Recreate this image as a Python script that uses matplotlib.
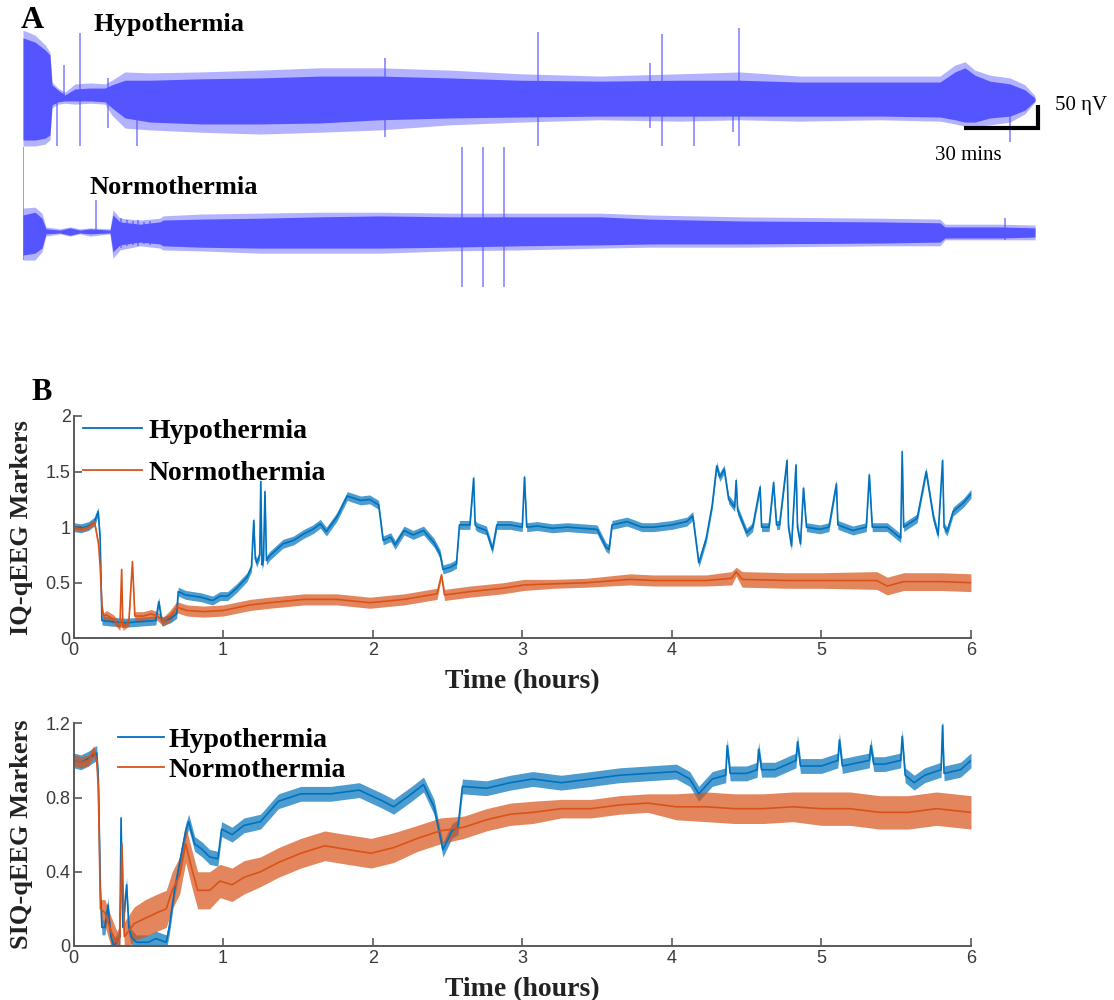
import numpy as np
import matplotlib
matplotlib.use("Agg")
import matplotlib.pyplot as plt
from matplotlib.lines import Line2D

# ---------------- Panel A: raw EEG envelopes (time in hours, amplitude in nV) ----------------
hypo_env_t = [0.000, 0.081, 0.149, 0.182, 0.196, 0.236, 0.284, 0.351, 0.453, 0.554, 0.601,
              0.689, 0.858, 1.196, 1.601, 2.007, 2.412, 2.885, 3.358, 3.899, 4.439, 4.845,
              5.250, 5.791, 6.196, 6.297, 6.365, 6.432, 6.534, 6.669, 6.770, 6.838]
hypo_core_hi = [135, 126, 109, 98, 33, 22, 11, 24, 26, 26, 33, 43, 43, 46, 48, 52, 52, 48, 43,
                41, 43, 43, 39, 39, 39, 61, 70, 54, 41, 35, 22, 4]
hypo_core_lo = [-87, -87, -83, -76, -11, -4, -2, -2, -2, -4, -17, -39, -48, -52, -52, -50, -43,
                -39, -37, -35, -35, -35, -35, -35, -37, -43, -48, -48, -39, -35, -22, -2]
hypo_edge_hi = [152, 141, 120, 104, 39, 26, 17, 35, 37, 35, 43, 61, 59, 61, 65, 70, 70, 65, 57,
                52, 57, 61, 52, 52, 52, 76, 83, 65, 54, 48, 33, 9]
hypo_edge_lo = [-100, -100, -96, -87, -17, -9, -7, -9, -7, -9, -33, -61, -65, -70, -74, -70, -65,
                -54, -48, -43, -46, -43, -46, -43, -46, -52, -57, -57, -54, -48, -30, -4]
hypo_spike_t = [0.230, 0.277, 0.385, 0.574, 0.770, 2.446, 3.480, 4.236, 4.318, 4.534, 4.797, 4.838, 6.669]
hypo_spike_hi = [22, 76, 146, 48, 0, 91, 148, 80, 143, 0, 0, 157, 0]
hypo_spike_lo = [-100, 0, -100, -61, -100, -80, -100, -61, -100, -100, -70, -100, -91]

normo_env_t = [0.000, 0.081, 0.128, 0.155, 0.250, 0.318, 0.385, 0.453, 0.588, 0.608, 0.655,
               0.791, 0.926, 0.946, 1.196, 1.601, 2.007, 2.412, 2.885, 3.358, 3.899, 4.236,
               4.845, 5.791, 6.196, 6.230, 6.601, 6.838]
normo_core_hi = [37, 43, 30, 7, 4, 9, 4, 7, 4, 37, 22, 17, 22, 26, 28, 30, 33, 35, 33, 33, 33,
                 28, 24, 22, 20, 11, 11, 9]
normo_core_lo = [-50, -46, -35, -4, -2, -7, -2, -4, -2, -43, -28, -22, -26, -30, -33, -35, -35,
                 -35, -33, -30, -28, -26, -26, -24, -22, -13, -13, -11]
normo_edge_hi = [52, 54, 41, 11, 7, 11, 7, 9, 7, 48, 30, 26, 30, 35, 39, 41, 43, 43, 41, 41, 41,
                 37, 33, 30, 28, 17, 17, 15]
normo_edge_lo = [-61, -61, -43, -9, -4, -9, -4, -9, -4, -57, -39, -30, -35, -39, -41, -46, -46,
                 -46, -41, -39, -35, -33, -33, -30, -30, -17, -17, -17]
normo_spike_t = [0.000, 0.493, 0.662, 0.700, 0.740, 0.780, 0.820, 0.860, 2.966, 3.108, 3.250, 6.635]
normo_spike_hi = [185, 70, 30, 26, 24, 26, 22, 24, 185, 185, 185, 30]
normo_spike_lo = [-61, 0, -35, -30, -28, -30, -26, -28, -120, -120, -120, -17]

# ---------------- Panel B: IQ-qEEG markers ----------------
iq_hypo_t = [0.00, 0.05, 0.10, 0.14, 0.165, 0.178, 0.19, 0.25, 0.35, 0.45, 0.55, 0.57, 0.59, 0.65,
             0.69, 0.70, 0.75, 0.85, 0.93, 0.98, 1.03, 1.09, 1.16, 1.19, 1.205, 1.215, 1.225, 1.245,
             1.252, 1.26, 1.27, 1.28, 1.29, 1.31, 1.40, 1.47, 1.54, 1.60, 1.65, 1.69, 1.76, 1.83,
             1.92, 1.98, 2.04, 2.07, 2.12, 2.15, 2.21, 2.27, 2.34, 2.41, 2.45, 2.47, 2.52, 2.56,
             2.58, 2.65, 2.675, 2.685, 2.70, 2.76, 2.80, 2.83, 2.92, 3.00, 3.015, 3.03, 3.10, 3.20,
             3.30, 3.40, 3.50, 3.56, 3.58, 3.60, 3.70, 3.80, 3.88, 4.00, 4.10, 4.14, 4.18, 4.19,
             4.23, 4.27, 4.30, 4.32, 4.35, 4.38, 4.42, 4.43, 4.44, 4.50, 4.54, 4.59, 4.60, 4.65,
             4.68, 4.70, 4.72, 4.77, 4.78, 4.80, 4.83, 4.84, 4.86, 4.88, 4.90, 4.99, 5.05, 5.10,
             5.11, 5.21, 5.30, 5.32, 5.34, 5.44, 5.53, 5.54, 5.55, 5.64, 5.70, 5.75, 5.78, 5.81,
             5.82, 5.84, 5.88, 5.95, 6.00]
iq_hypo_v = [1.00, 0.99, 1.01, 1.05, 1.14, 0.90, 0.16, 0.15, 0.14, 0.15, 0.16, 0.33, 0.15, 0.18,
             0.22, 0.42, 0.39, 0.37, 0.34, 0.38, 0.38, 0.45, 0.55, 0.64, 1.06, 0.72, 0.68, 0.75,
             1.41, 0.66, 0.70, 1.32, 0.70, 0.74, 0.85, 0.88, 0.94, 0.98, 1.03, 0.96, 1.09, 1.28,
             1.24, 1.25, 1.20, 0.88, 0.91, 0.84, 0.97, 0.93, 0.97, 0.86, 0.76, 0.62, 0.64, 0.67,
             1.02, 1.02, 1.44, 1.02, 1.00, 0.97, 0.80, 1.02, 1.02, 1.00, 1.45, 1.00, 1.01, 0.99,
             1.00, 0.99, 0.98, 0.82, 0.80, 1.02, 1.05, 1.00, 1.00, 1.02, 1.05, 1.10, 0.68, 0.72,
             0.90, 1.20, 1.55, 1.45, 1.52, 1.25, 1.18, 1.42, 1.15, 0.95, 1.00, 1.36, 1.00, 1.00,
             1.40, 1.02, 1.02, 1.60, 1.00, 0.83, 1.56, 1.00, 0.85, 1.35, 1.00, 0.98, 1.00, 1.39,
             1.02, 0.97, 1.00, 1.47, 1.00, 1.00, 0.90, 1.68, 1.00, 1.08, 1.50, 1.08, 0.93, 1.60,
             1.00, 0.96, 1.14, 1.22, 1.30]
iq_hypo_spread = 0.04

iq_normo_t = [0.00, 0.05, 0.10, 0.14, 0.167, 0.178, 0.19, 0.20, 0.22, 0.27, 0.31, 0.322, 0.33,
              0.37, 0.394, 0.41, 0.467, 0.52, 0.56, 0.60, 0.645, 0.69, 0.76, 0.87, 1.00, 1.18,
              1.31, 1.54, 1.76, 1.98, 2.21, 2.43, 2.46, 2.48, 2.65, 2.87, 3.01, 3.21, 3.43, 3.72,
              3.88, 4.10, 4.23, 4.40, 4.43, 4.47, 4.77, 5.00, 5.37, 5.44, 5.55, 5.80, 6.00]
iq_normo_v = [1.00, 0.98, 1.00, 1.05, 0.85, 0.65, 0.30, 0.20, 0.21, 0.17, 0.10, 0.62, 0.10,
              0.15, 0.69, 0.20, 0.20, 0.22, 0.20, 0.15, 0.20, 0.28, 0.25, 0.24, 0.25, 0.30,
              0.32, 0.35, 0.35, 0.32, 0.35, 0.40, 0.57, 0.39, 0.42, 0.45, 0.48, 0.49, 0.50, 0.53,
              0.52, 0.52, 0.52, 0.54, 0.60, 0.53, 0.52, 0.52, 0.52, 0.47, 0.51, 0.51, 0.50]
iq_normo_spread = [0.02, 0.02, 0.02, 0.02, 0.02, 0.02, 0.02, 0.03, 0.04, 0.04, 0.03, 0.01, 0.03,
                   0.04, 0.01, 0.04, 0.04, 0.04, 0.04, 0.04, 0.05, 0.05, 0.05, 0.05, 0.05, 0.05,
                   0.05, 0.05, 0.05, 0.05, 0.05, 0.05, 0.02, 0.05, 0.05, 0.05, 0.05, 0.04, 0.04,
                   0.05, 0.05, 0.05, 0.05, 0.06, 0.04, 0.07, 0.07, 0.07, 0.08, 0.08, 0.08, 0.08, 0.08]

# ---------------- Panel B: SIQ-qEEG markers ----------------
siq_hypo_t = [0.00, 0.05, 0.10, 0.135, 0.155, 0.166, 0.18, 0.19, 0.21, 0.23, 0.25, 0.27, 0.31,
              0.318, 0.33, 0.355, 0.37, 0.386, 0.42, 0.50, 0.55, 0.62, 0.64, 0.675, 0.71, 0.75,
              0.77, 0.81, 0.86, 0.91, 0.965, 0.99, 1.06, 1.14, 1.25, 1.37, 1.52, 1.72, 1.91, 2.07,
              2.14, 2.26, 2.34, 2.41, 2.47, 2.53, 2.57, 2.60, 2.76, 2.92, 3.07, 3.26, 3.46, 3.65,
              3.84, 4.03, 4.12, 4.18, 4.27, 4.36, 4.37, 4.39, 4.50, 4.57, 4.58, 4.60, 4.69, 4.83,
              4.84, 4.86, 5.00, 5.11, 5.12, 5.14, 5.32, 5.33, 5.35, 5.42, 5.53, 5.54, 5.56, 5.62,
              5.69, 5.80, 5.81, 5.82, 5.93, 6.00]
siq_hypo_v = [1.00, 0.99, 1.01, 1.03, 1.04, 0.90, 0.30, 0.10, 0.10, 0.22, 0.05, 0.00, 0.05,
              0.69, 0.10, 0.33, 0.10, 0.05, 0.02, 0.02, 0.04, 0.02, 0.10, 0.30, 0.45, 0.62,
              0.67, 0.55, 0.52, 0.48, 0.47, 0.63, 0.60, 0.65, 0.67, 0.78, 0.82, 0.82, 0.84, 0.78,
              0.75, 0.82, 0.87, 0.75, 0.52, 0.62, 0.64, 0.86, 0.85, 0.88, 0.90, 0.88, 0.90, 0.92,
              0.93, 0.94, 0.90, 0.82, 0.90, 0.92, 1.08, 0.93, 0.93, 0.95, 1.06, 0.95, 0.95, 1.00,
              1.10, 0.97, 0.97, 1.00, 1.11, 0.97, 1.00, 1.08, 0.98, 0.98, 1.00, 1.13, 0.92, 0.88,
              0.92, 0.95, 1.19, 0.93, 0.95, 1.00]
siq_hypo_spread = 0.04

siq_normo_t = [0.00, 0.05, 0.10, 0.135, 0.155, 0.166, 0.18, 0.21, 0.25, 0.29, 0.31, 0.324, 0.34,
               0.405, 0.48, 0.56, 0.62, 0.66, 0.71, 0.75, 0.79, 0.83, 0.91, 0.98, 1.06, 1.14,
               1.25, 1.37, 1.52, 1.68, 1.83, 1.99, 2.14, 2.30, 2.45, 2.61, 2.76, 2.92, 3.07, 3.26,
               3.46, 3.65, 3.84, 4.03, 4.23, 4.42, 4.61, 4.81, 5.00, 5.19, 5.39, 5.58, 5.77, 6.00]
siq_normo_v = [1.00, 0.99, 1.00, 1.05, 1.00, 0.85, 0.20, 0.18, 0.08, 0.02, 0.05, 0.55, 0.05,
               0.12, 0.15, 0.18, 0.20, 0.30, 0.38, 0.55, 0.42, 0.30, 0.30, 0.35, 0.33, 0.37,
               0.40, 0.45, 0.50, 0.54, 0.52, 0.50, 0.53, 0.58, 0.62, 0.64, 0.68, 0.71, 0.72, 0.74,
               0.74, 0.76, 0.77, 0.75, 0.75, 0.74, 0.74, 0.75, 0.74, 0.74, 0.72, 0.72, 0.74, 0.72]
siq_normo_spread = [0.03, 0.03, 0.03, 0.03, 0.03, 0.03, 0.05, 0.07, 0.08, 0.06, 0.06, 0.01, 0.08,
                    0.09, 0.10, 0.10, 0.10, 0.10, 0.10, 0.10, 0.10, 0.10, 0.10, 0.09, 0.09, 0.09,
                    0.08, 0.08, 0.08, 0.08, 0.08, 0.08, 0.08, 0.07, 0.07, 0.06, 0.06, 0.06, 0.06,
                    0.05, 0.05, 0.05, 0.05, 0.07, 0.08, 0.08, 0.08, 0.08, 0.09, 0.09, 0.09, 0.09,
                    0.09, 0.09]

iq_ticks = [0, 0.5, 1, 1.5, 2]
iq_ticklabels = ["0", "0.5", "1", "1.5", "2"]
siq_ticks = [0, 0.4, 0.8, 1.2]
siq_ticklabels = ["0", "0.4", "0.8", "1.2"]
time_ticks = [0, 1, 2, 3, 4, 5, 6]
series_names = ["Hypothermia", "Normothermia"]

EEG_COLOR = "#5555ff"
HYPO_COLOR = "#0072BD"
NORMO_COLOR = "#D95319"
AXIS_COLOR = "#5a5a5a"
SERIF = ["Liberation Serif", "DejaVu Serif"]
SANS = ["Liberation Sans", "DejaVu Sans"]

W, H = 1114, 1000
fig = plt.figure(figsize=(W / 100, H / 100), dpi=100)


def fx(px):
    return px / W


def fy(py):
    return 1 - py / H


# ---------------- Panel A ----------------
PX_PER_HOUR = 148.0
PX_PER_NV = 0.46
axA = fig.add_axes([fx(23), fy(300), fx(W - 23), 0.3])
axA.set_xlim(0, (W - 23) / PX_PER_HOUR)
axA.set_ylim(-200 / PX_PER_NV, 100 / PX_PER_NV)
axA.axis("off")
NORMO_OFFSET = -132 / PX_PER_NV


def draw_eeg(ax, t, core_hi, core_lo, edge_hi, edge_lo, sp_t, sp_hi, sp_lo, base):
    t = np.asarray(t)
    ax.fill_between(t, base + np.asarray(edge_lo), base + np.asarray(edge_hi),
                    color=EEG_COLOR, alpha=0.45, lw=0)
    ax.fill_between(t, base + np.asarray(core_lo), base + np.asarray(core_hi),
                    color=EEG_COLOR, alpha=1.0, lw=0)
    ax.vlines(sp_t, base + np.asarray(sp_lo), base + np.asarray(sp_hi),
              color=EEG_COLOR, lw=1.2, alpha=0.7)


draw_eeg(axA, hypo_env_t, hypo_core_hi, hypo_core_lo, hypo_edge_hi, hypo_edge_lo,
         hypo_spike_t, hypo_spike_hi, hypo_spike_lo, 0.0)
draw_eeg(axA, normo_env_t, normo_core_hi, normo_core_lo, normo_edge_hi, normo_edge_lo,
         normo_spike_t, normo_spike_hi, normo_spike_lo, NORMO_OFFSET)

# scale bar: 30 min x 50 nV
bar_t0, bar_v0 = 6.358, -61.0
axA.plot([bar_t0, bar_t0 + 0.5, bar_t0 + 0.5], [bar_v0, bar_v0, bar_v0 + 50],
         color="black", lw=3, solid_joinstyle="miter", solid_capstyle="butt")
axA.text(bar_t0 + 0.5 + 0.115, bar_v0 + 48, "50 \u03b7V", family=SERIF, fontsize=15,
         ha="left", va="center")
axA.text(bar_t0 + 0.03, bar_v0 - 60, "30 mins", family=SERIF, fontsize=15,
         ha="center", va="center")

fig.text(fx(93), fy(24), series_names[0], family=SERIF, weight="bold", fontsize=19,
         ha="left", va="center")
fig.text(fx(90), fy(187), series_names[1], family=SERIF, weight="bold", fontsize=19,
         ha="left", va="center")
fig.text(fx(21), fy(21), "A", family=SERIF, weight="bold", fontsize=23, ha="left", va="center")
fig.text(fx(31), fy(392), "B", family=SERIF, weight="bold", fontsize=22, ha="left", va="center")


# ---------------- Panel B ----------------
def style_axis(ax, yticks, yticklabels, ylim):
    ax.set_xlim(0, 6)
    ax.set_ylim(*ylim)
    for s in ("top", "right"):
        ax.spines[s].set_visible(False)
    for s in ("left", "bottom"):
        ax.spines[s].set_color(AXIS_COLOR)
        ax.spines[s].set_linewidth(1.4)
    ax.set_xticks(time_ticks)
    ax.set_xticklabels([str(v) for v in time_ticks])
    ax.set_yticks(yticks)
    ax.set_yticklabels(yticklabels)
    ax.tick_params(direction="in", length=6, width=1.2, color=AXIS_COLOR,
                   labelcolor="#3a3a3a", labelsize=13)
    ax.tick_params(axis="x", pad=3)
    ax.tick_params(axis="y", pad=2)
    for lab in ax.get_xticklabels() + ax.get_yticklabels():
        lab.set_family(SANS)
    ax.set_xlabel("Time (hours)", family=SERIF, weight="bold", fontsize=20, labelpad=7,
                  color="#222222")


def draw_marker(ax, t, v, spread, color):
    t = np.asarray(t)
    v = np.asarray(v)
    s = np.broadcast_to(np.asarray(spread, dtype=float), v.shape)
    ax.fill_between(t, v - s, v + s, color=color, alpha=0.7, lw=0)
    ax.plot(t, v, color=color, lw=1.2)


axT = fig.add_axes([fx(73.5), fy(638.3), fx(897.5), 222.3 / H])
style_axis(axT, iq_ticks, iq_ticklabels, (0, 2))
draw_marker(axT, iq_hypo_t, iq_hypo_v, iq_hypo_spread, HYPO_COLOR)
draw_marker(axT, iq_normo_t, iq_normo_v, iq_normo_spread, NORMO_COLOR)
axT.set_ylabel("IQ-qEEG Markers", family=SERIF, weight="bold", fontsize=19, labelpad=9,
               color="#222222")

axS = fig.add_axes([fx(73.5), fy(946), fx(897.5), 222.7 / H])
style_axis(axS, siq_ticks, siq_ticklabels, (0, 1.2))
draw_marker(axS, siq_hypo_t, siq_hypo_v, siq_hypo_spread, HYPO_COLOR)
draw_marker(axS, siq_normo_t, siq_normo_v, siq_normo_spread, NORMO_COLOR)
axS.set_ylabel("SIQ-qEEG Markers", family=SERIF, weight="bold", fontsize=19, labelpad=9,
               color="#222222")

handles = [Line2D([], [], color=HYPO_COLOR, lw=1.3), Line2D([], [], color=NORMO_COLOR, lw=1.3)]
leg_font = {"family": SERIF, "weight": "bold", "size": 20}
axT.legend(handles, series_names, loc="upper left", bbox_to_anchor=(0.011, 0.99),
           frameon=False, prop=leg_font, handlelength=2.1, handletextpad=0.25,
           labelspacing=0.6, borderaxespad=0, borderpad=0)
axS.legend(handles, series_names, loc="upper left", bbox_to_anchor=(0.050, 0.98),
           frameon=False, prop=leg_font, handlelength=1.65, handletextpad=0.15,
           labelspacing=0.15, borderaxespad=0, borderpad=0)

fig.savefig("out.png", dpi=100)
